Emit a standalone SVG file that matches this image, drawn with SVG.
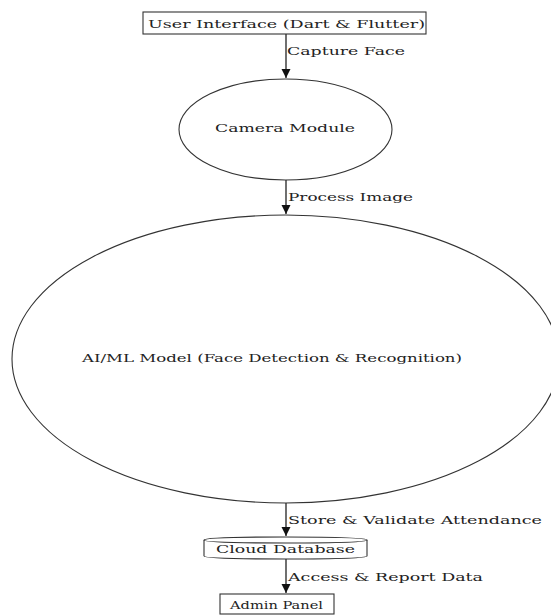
<svg xmlns="http://www.w3.org/2000/svg" width="551" height="615" viewBox="0 0 551 615">
<style>
text{font-family:"DejaVu Serif","Liberation Serif",serif;font-size:10.5px;fill:#222}
.n{fill:none;stroke:#333;stroke-width:1.1}
.e{stroke:#222;stroke-width:1.3;fill:none}
</style>
<defs>
<marker id="ah" markerWidth="10" markerHeight="10" refX="9" refY="5" orient="auto" markerUnits="userSpaceOnUse">
<path d="M0,0.5 L9,5 L0,9.5 Z" fill="#111"/>
</marker>
</defs>
<rect width="551" height="615" fill="#fff"/>
<g id="connectors">
<line class="e" x1="286" y1="34" x2="286" y2="78" marker-end="url(#ah)"/>
<text x="287" y="55" textLength="118" lengthAdjust="spacingAndGlyphs">Capture Face</text>
<line class="e" x1="286" y1="180" x2="286" y2="214" marker-end="url(#ah)"/>
<text x="288" y="201" textLength="125" lengthAdjust="spacingAndGlyphs">Process Image</text>
<line class="e" x1="286" y1="503" x2="286" y2="536" marker-end="url(#ah)"/>
<text x="288" y="524" textLength="254" lengthAdjust="spacingAndGlyphs">Store &amp; Validate Attendance</text>
<line class="e" x1="286" y1="559" x2="286" y2="593" marker-end="url(#ah)"/>
<text x="288" y="581" textLength="195" lengthAdjust="spacingAndGlyphs">Access &amp; Report Data</text>
</g>
<g id="ui">
<rect class="n" x="143" y="12" width="283" height="22"/>
<text x="148" y="28" textLength="277" lengthAdjust="spacingAndGlyphs">User Interface (Dart &amp; Flutter)</text>
</g>
<g id="camera">
<ellipse class="n" cx="285.5" cy="129.5" rx="106.5" ry="50.5"/>
<text x="215" y="132" textLength="140" lengthAdjust="spacingAndGlyphs">Camera Module</text>
</g>
<g id="aiml">
<ellipse class="n" cx="285.5" cy="359" rx="273.5" ry="144"/>
<text x="82" y="362" textLength="380" lengthAdjust="spacingAndGlyphs">AI/ML Model (Face Detection &amp; Recognition)</text>
</g>
<g id="db">
<path class="n" d="M204,540 Q204,537 285.5,537 Q367,537 367,540 L367,556 Q367,559 285.5,559 Q204,559 204,556 Z"/>
<path class="n" d="M204,540 Q204,543 285.5,543 Q367,543 367,540"/>
<text x="216" y="553" textLength="139" lengthAdjust="spacingAndGlyphs">Cloud Database</text>
</g>
<g id="admin">
<rect class="n" x="220" y="594" width="114" height="20"/>
<text x="230" y="609" textLength="93" lengthAdjust="spacingAndGlyphs">Admin Panel</text>
</g>
</svg>
